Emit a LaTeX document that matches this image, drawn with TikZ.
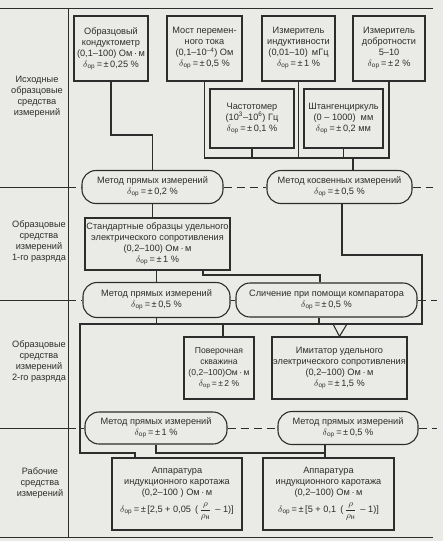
\documentclass[tikz,border=0pt]{standalone}
\usepackage{fontspec}
\setmainfont{Liberation Sans}
\definecolor{ink}{RGB}{45,45,45}
\definecolor{paper}{RGB}{234,234,230}
\newcommand\fs{\fontsize{9.2}{11}\selectfont}
\newcommand\dop{$\delta$\textsubscript{ор}}
\newcommand\rfrac{$\displaystyle\frac{\rho}{\rho_{\mbox{\scriptsize н}}}$}
\begin{document}
\begin{tikzpicture}[x=1pt,y=-1pt,
  every node/.style={font=\fs, text=ink},
  box/.style={draw=ink, line width=1.1pt, fill=paper, align=center, inner sep=0pt},
  pill/.style={box, rounded corners=14pt},
  lbl/.style={align=center, inner sep=0pt},
  ln/.style={draw=ink, line width=1.1pt},
  sep/.style={draw=ink, line width=0.9pt},
  dsep/.style={sep, dash pattern=on 8pt off 5pt}]
\fill[paper] (0,0) rectangle (443,541);
\useasboundingbox (0,0) rectangle (443,541);

% frame
\coordinate (ftl) at (0,8);
\coordinate (ftr) at (433,8);
\coordinate (fvt) at (68,8);
\coordinate (fvb) at (68,537);
\coordinate (fbl) at (0,537);
\coordinate (fbr) at (433,537);
\draw[sep] (ftl) -- (ftr);
\draw[sep] (fbl) -- (fbr);
\draw[sep] (fvt) -- (fvb);

% left labels
\node[lbl] (L1) at (37,96.5) {Исходные\\образцовые\\средства\\измерений};
\node[lbl] (L2) at (39,242) {Образцовые\\средства\\измерений\\1-го разряда};
\node[lbl] (L3) at (39,361.5) {Образцовые\\средства\\измерений\\2-го разряда};
\node[lbl] (L4) at (40,483) {Рабочие\\средства\\измерений};

% top row
\node[box, minimum width=74pt, minimum height=65pt] (b1) at (111,48.5)
  {Образцовый\\кондуктометр\\(0,1–100) Ом\,·\,м\\\dop\,=\,±\,0,25 \%};
\node[box, minimum width=75pt, minimum height=65pt] (b2) at (204.5,48.5)
  {Мост перемен-\\ного тока\\(0,1–10\textsuperscript{–4}) Ом\\\dop\,=\,±\,0,5 \%};
\node[box, minimum width=73pt, minimum height=65pt] (b3) at (298.5,48.5)
  {Измеритель\\индуктивности\\(0,01–10)\, мГц\\\dop\,=\,±\,1 \%};
\node[box, minimum width=72pt, minimum height=65pt] (b4) at (389,48.5)
  {Измеритель\\добротности\\5–10\\\dop\,=\,±\,2 \%};
\node[box, minimum width=84pt, minimum height=59pt] (b5) at (252,118.5)
  {Частотомер\\(10\textsuperscript{3}–10\textsuperscript{6}) Гц\\\dop\,=\,±\,0,1 \%};
\node[box, minimum width=79pt, minimum height=59pt] (b6) at (343.5,118.5)
  {Штангенциркуль\\(0 – 1000)\ \ мм\\\dop\,=\,±\,0,2 мм};

% level 1 methods
\node[pill, minimum width=141pt, minimum height=33pt] (A) at (152.5,187)
  {Метод прямых измерений\\\dop\,=\,±\,0,2 \%};
\node[pill, minimum width=145pt, minimum height=33pt] (B) at (339.5,187)
  {Метод косвенных измерений\\\dop\,=\,±\,0,5 \%};

\node[box, minimum width=145pt, minimum height=52pt] (C) at (157.5,244)
  {Стандартные образцы удельного\\электрического сопротивления\\(0,2–100) Ом\,·\,м\\\dop\,=\,±\,1 \%};

\node[pill, minimum width=147pt, minimum height=35pt] (D) at (156.5,300)
  {Метод прямых измерений\\\dop\,=\,±\,0,5 \%};
\node[pill, minimum width=181pt, minimum height=34pt] (E) at (326.5,300)
  {Сличение при помощи компаратора\\\dop\,=\,±\,0,5 \%};

\node[box, minimum width=70pt, minimum height=62pt, font=\fontsize{8.6}{11}\selectfont] (P) at (219,368)
  {Поверочная\\скважина\\(0,2–100)Ом\,·\,м\\\dop\,=\,±\,2 \%};
\node[box, minimum width=135pt, minimum height=62pt] (I) at (339.5,368)
  {Имитатор удельного\\электрического сопротивления\\(0,2–100) Ом\,·\,м\\\dop\,=\,±\,1,5 \%};

\node[pill, minimum width=142pt, minimum height=32pt] (F) at (156,428)
  {Метод прямых измерений\\\dop\,=\,±\,1 \%};
\node[pill, minimum width=140pt, minimum height=33pt] (G) at (348,428)
  {Метод прямых измерений\\\dop\,=\,±\,0,5 \%};

\node[box, minimum width=130pt, minimum height=72pt] (K1) at (177,494)
  {Аппаратура\\индукционного каротажа\\(0,2–100\ ) Ом\,·\,м\\[4pt]\dop\,=\,±\,[2,5 + 0,05\, (\,\rfrac\, – 1)]};
\node[box, minimum width=131pt, minimum height=72pt] (K2) at (328.5,494)
  {Аппаратура\\индукционного каротажа\\(0,2–100) Ом\,·\,м\\[4pt]\dop\,=\,±\,[5 + 0,1\, (\,\rfrac\, – 1)]};

% separators
\coordinate (s1) at (0,187);  \coordinate (x1) at (68,187);  \coordinate (s1e) at (433,187);
\coordinate (s2) at (0,300);  \coordinate (x2) at (68,300);  \coordinate (s2e) at (437,300);
\coordinate (s3) at (0,428);  \coordinate (x3) at (68,428);  \coordinate (s3e) at (437,428);
\draw[sep] (s1) -- (x1);
\draw[dsep] (x1) -- (A.west);
\draw[dsep] (A.east) -- (B.west);
\draw[dsep] (B.east) -- (s1e);
\draw[sep] (s2) -- (x2);
\draw[dsep] (x2) -- (D.west);
\draw[sep] (D.east) -- (E.west);
\draw[dsep] (E.east) -- (s2e);
\draw[sep] (s3) -- (x3);
\draw[dsep] (x3) -- (F.west);
\draw[dsep] (F.east) -- (G.west);
\draw[dsep] (G.east) -- (s3e);

% top connections
\coordinate (bus) at (0,158);
\draw[ln] (b2.south) -- (b2.south |- bus) -- (b4.south |- bus) -- (b4.south);
\draw[ln] (b3.south) -- (b3.south |- bus);
\draw[ln] (b5.south) -- (b5.south |- bus);
\draw[ln] (b6.south) -- (b6.south |- bus);
\coordinate (bj) at (353,158);
\draw[ln] (bj) -- (bj |- B.north);
\coordinate (k1) at (152.5,135);
\draw[ln] (b1.south) |- (k1) -- (A.north);

% level 1
\draw[ln] (A.south) -- (A.south |- C.north);
\draw[ln] (D.north |- C.south) -- (D.north);
\coordinate (k2) at (203,275);
\coordinate (k3) at (320,275);
\draw[ln] (k2 |- C.south) -- (k2) -- (k3) -- (k3 |- E.north);
\coordinate (k4) at (342,255);
\coordinate (k5) at (422,255);
\coordinate (h2r) at (422,324);
\coordinate (h2l) at (80,324);
\coordinate (k6) at (80,453);
\coordinate (k7) at (135,453);
\draw[ln] (k4 |- B.south) -- (k4) -- (k5) -- (h2r) -- (h2l) -- (k6) -- (k7) -- (k7 |- K1.north);

% level 2
\draw[ln] (D.south) -- (D.south |- h2l);
\coordinate (k8) at (319,324);
\draw[ln] (k8 |- E.south) -- (k8);
\coordinate (k9) at (223,324);
\draw[ln] (k9) -- (k9 |- P.north);
\coordinate (v1) at (333,324);
\coordinate (v2) at (347,324);
\draw[ln] (v1) -- (I.north) -- (v2);

% level 3
\coordinate (k10) at (325,453);
\draw[ln] (F.south) -- (F.south |- k10) -- (k10);
\draw[ln] (k10 |- G.south) -- (k10 |- K2.north);
\end{tikzpicture}
\end{document}
